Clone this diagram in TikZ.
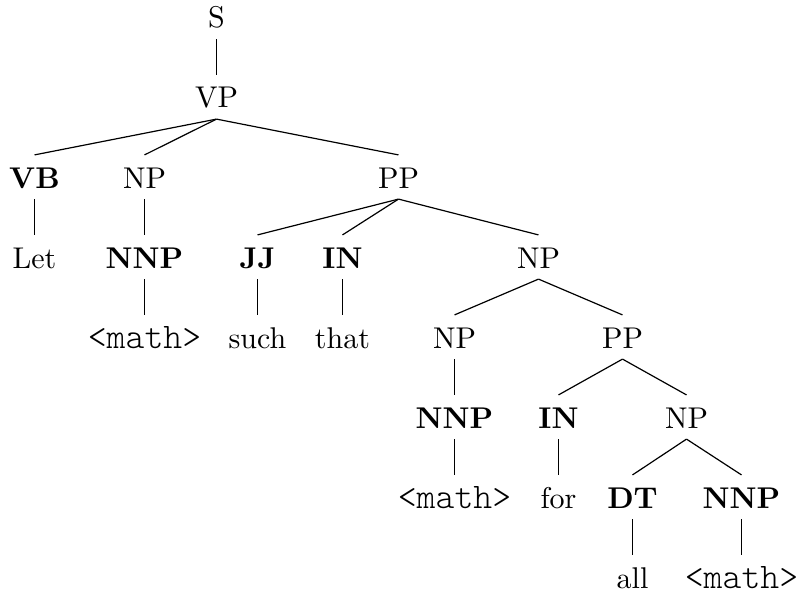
\documentclass[tikz,border=0pt]{standalone}
\begin{document}
\begin{tikzpicture}[x=0.33333pt, y=-0.33333pt,
  tn/.style={anchor=base, inner xsep=0pt, inner ysep=3.5pt,
             text height=7.33pt, text depth=0pt,
             font=\fontsize{10}{12}\selectfont},
  tb/.style={tn, font=\fontsize{10}{12}\selectfont\bfseries},
  tt/.style={tn, font=\fontsize{12}{14}\ttfamily\fontseries{l}\selectfont},
  edge/.style={line width=0.4pt}]
\useasboundingbox (0,0) rectangle (799,596);

% level 0-1
\node[tn] (s)    at (216.5,28)  {S};
\node[tn] (vp)   at (216.5,108) {VP};
% level 2
\node[tb] (vb)   at (34.5,188) {VB};
\node[tn] (np1)  at (144.5,188) {NP};
\node[tn] (pp1)  at (398.5,188) {PP};
% level 3
\node[tn] (let)  at (34.5,268) {Let};
\node[tb] (nnp1) at (144.5,268) {NNP};
\node[tb] (jj)   at (257.5,268) {JJ};
\node[tb] (in1)  at (342.5,268) {IN};
\node[tn] (np2)  at (538.5,268) {NP};
% level 4
\node[tt] (m1)   at (144.5,348) {<math>};
\node[tn] (such) at (257.5,348) {such};
\node[tn] (that) at (342.5,348) {that};
\node[tn] (np3)  at (454.5,348) {NP};
\node[tn] (pp2)  at (622.5,348) {PP};
% level 5
\node[tb] (nnp2) at (454.5,428) {NNP};
\node[tb] (in2)  at (558.5,428) {IN};
\node[tn] (np4)  at (686.5,428) {NP};
% level 6
\node[tt] (m2)   at (454.5,508) {<math>};
\node[tn] (for)  at (558.5,508) {for};
\node[tb] (dt)   at (632.5,508) {DT};
\node[tb] (nnp3) at (741.5,508) {NNP};
% level 7
\node[tn] (all)  at (632.5,588) {all};
\node[tt] (m3)   at (741.5,588) {<math>};

\draw[edge] (s.south) -- (vp.north);
\foreach \c in {vb,np1,pp1} \draw[edge] (vp.south) -- (\c.north);
\draw[edge] (vb.south) -- (let.north);
\draw[edge] (np1.south) -- (nnp1.north);
\draw[edge] (nnp1.south) -- (m1.north);
\foreach \c in {jj,in1,np2} \draw[edge] (pp1.south) -- (\c.north);
\draw[edge] (jj.south) -- (such.north);
\draw[edge] (in1.south) -- (that.north);
\foreach \c in {np3,pp2} \draw[edge] (np2.south) -- (\c.north);
\draw[edge] (np3.south) -- (nnp2.north);
\draw[edge] (nnp2.south) -- (m2.north);
\foreach \c in {in2,np4} \draw[edge] (pp2.south) -- (\c.north);
\draw[edge] (in2.south) -- (for.north);
\foreach \c in {dt,nnp3} \draw[edge] (np4.south) -- (\c.north);
\draw[edge] (dt.south) -- (all.north);
\draw[edge] (nnp3.south) -- (m3.north);
\end{tikzpicture}
\end{document}
